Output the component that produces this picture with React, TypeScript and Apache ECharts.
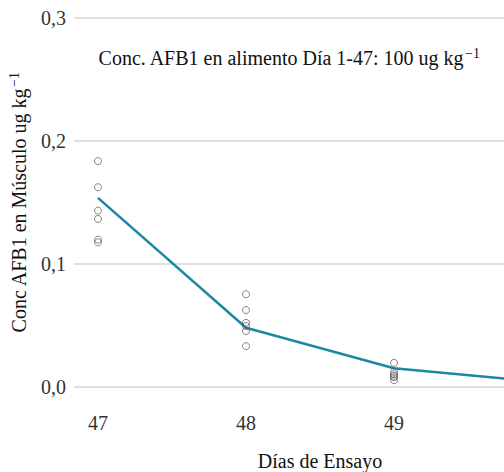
import React, { useEffect, useRef } from "react";
import * as echarts from "echarts";

const days = [47, 48, 49];
const day47 = [0.1837, 0.1624, 0.1434, 0.1366, 0.1198, 0.1176];
const day48 = [0.0754, 0.0626, 0.0522, 0.0496, 0.0455, 0.0332];
const day49 = [0.0196, 0.0122, 0.0104, 0.009, 0.0079, 0.0055];
const fitDays = [47, 48, 49, 50];
const fitValues = [0.1538, 0.0482, 0.0153, 0.004];
const yTicks = [0, 0.1, 0.2, 0.3];

const FONT = "Liberation Serif";

export default function App() {
  const ref = useRef<HTMLDivElement>(null);
  useEffect(() => {
    if (!ref.current) return;
    const chart = echarts.init(ref.current, undefined, { renderer: "svg" });
    const points: number[][] = [];
    [day47, day48, day49].forEach((arr, i) => arr.forEach((v) => points.push([days[i], v])));
    chart.setOption({
      animation: false,
      backgroundColor: "#ffffff",
      textStyle: { fontFamily: FONT },
      grid: { left: 74, right: 0, top: 18, bottom: 85, outerBoundsMode: "none", containLabel: false },
      xAxis: {
        type: "value",
        min: 46.838,
        max: 49.743,
        axisLine: { show: false },
        axisTick: { show: false },
        splitLine: { show: false },
        axisLabel: {
          customValues: days,
          margin: 26,
          fontFamily: FONT,
          fontSize: 20,
          color: "#333333",
        },
      },
      yAxis: {
        type: "value",
        min: 0,
        max: 0.3,
        interval: 0.1,
        axisLine: { show: false },
        axisTick: { show: false },
        splitLine: { lineStyle: { color: "#d6d6d6", width: 1.5 } },
        axisLabel: {
          margin: 8,
          fontFamily: FONT,
          fontSize: 20,
          color: "#333333",
          formatter: (v: number) => {
            const t = yTicks.find((x) => Math.abs(x - v) < 1e-9);
            return (t !== undefined ? t : v).toFixed(1).replace(".", ",");
          },
        },
        name: "{a|Conc AFB1 en Músculo ug kg}{s|−1}",
        nameLocation: "middle",
        nameRotate: 90,
        nameGap: 44,
        nameTextStyle: {
          fontFamily: FONT,
          fontSize: 20,
          rich: {
            a: { fontFamily: FONT, fontSize: 20, color: "#111111" },
            s: { fontFamily: FONT, fontSize: 14, color: "#111111", padding: [0, 0, 9, 1] },
          },
        },
      },
      graphic: [
        {
          type: "text",
          x: 289,
          y: 58,
          style: {
            text: "{a|Conc. AFB1 en alimento Día 1-47: 100 ug kg}{s|−1}",
            align: "center",
            verticalAlign: "middle",
            fontFamily: FONT,
            rich: {
              a: { fontFamily: FONT, fontSize: 20, fill: "#111111" },
              s: { fontFamily: FONT, fontSize: 14, fill: "#111111", padding: [0, 0, 9, 1] },
            },
          },
        },
        {
          type: "text",
          x: 320,
          y: 461,
          style: {
            text: "Días de Ensayo",
            align: "center",
            verticalAlign: "middle",
            fontFamily: FONT,
            fontSize: 20,
            fill: "#111111",
          },
        },
      ],
      series: [
        {
          type: "line",
          data: fitDays.map((d, i) => [d, fitValues[i]]),
          showSymbol: false,
          symbol: "none",
          clip: true,
          lineStyle: { color: "#1c87a5", width: 2.5 },
          z: 2,
        },
        {
          type: "scatter",
          data: points,
          symbol: "circle",
          symbolSize: 7,
          itemStyle: { color: "rgba(255,255,255,0)", borderColor: "#555555", borderWidth: 0.9 },
          z: 3,
        },
      ],
    });
    return () => chart.dispose();
  }, []);
  return (
    <div
      ref={ref}
      style={{ position: "fixed", left: 0, top: 0, width: 504, height: 472 }}
    />
  );
}
